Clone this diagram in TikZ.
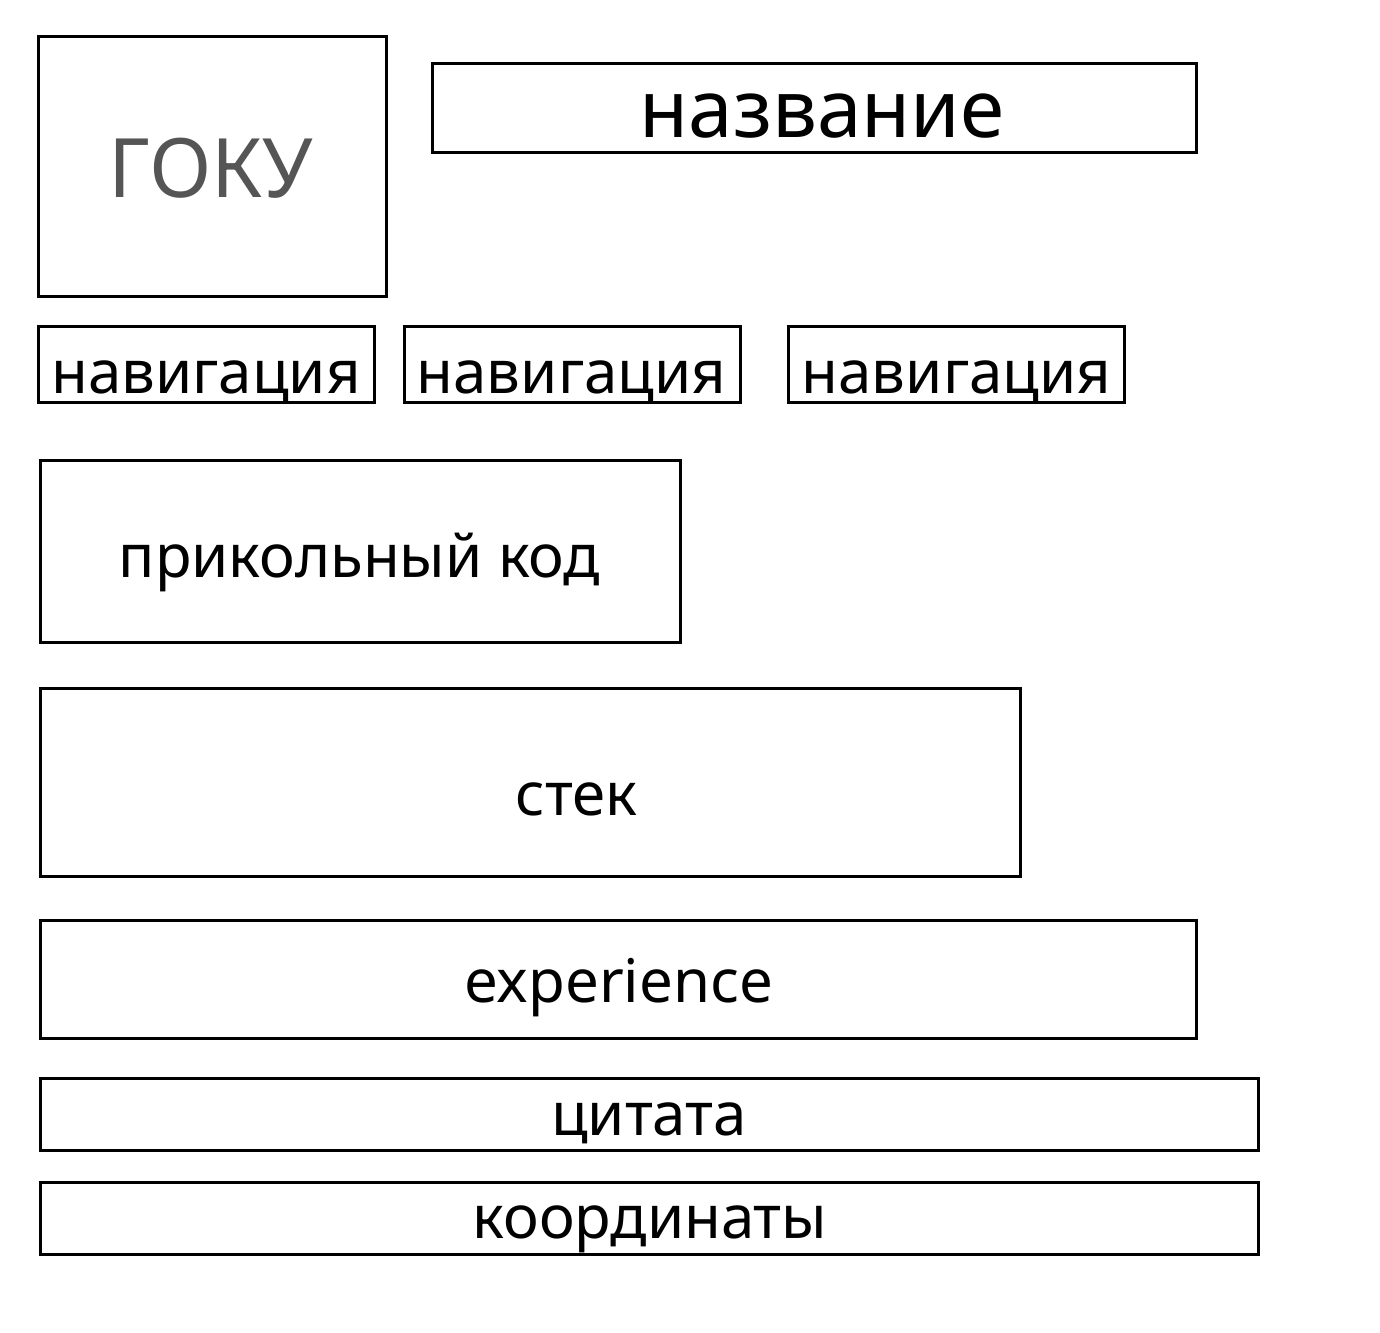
\documentclass[tikz,border=0pt]{standalone}
\usepackage{fontspec}
\setmainfont{Noto Sans}
\usetikzlibrary{fit}
\definecolor{gokugray}{HTML}{555555}
\tikzset{
  box/.style={draw=black, line width=2.9pt, inner sep=0pt, rectangle},
  lbl/.style={anchor=base, inner sep=0pt, font=\fontsize{45}{50}\selectfont, text=black},
}
\begin{document}
\begin{tikzpicture}[x=0.75pt, y=-0.75pt]
\useasboundingbox (0,0) rectangle (1380,1332);
\node[box, fit={(38.5,36.5) (386.5,296.5)}] (goku) {};
\node[box, fit={(432.5,63.5) (1196.5,152.5)}] (title) {};
\node[box, fit={(38.5,326.5) (374.5,402.5)}] (nav1) {};
\node[box, fit={(404.5,326.5) (740.5,402.5)}] (nav2) {};
\node[box, fit={(788.5,326.5) (1124.5,402.5)}] (nav3) {};
\node[box, fit={(40.5,460.5) (680.5,642.5)}] (code) {};
\node[box, fit={(40.5,688.5) (1020.5,876.5)}] (stack) {};
\node[box, fit={(40.5,920.5) (1196.5,1038.5)}] (exp) {};
\node[box, fit={(40.5,1078.5) (1258.5,1150.5)}] (quote) {};
\node[box, fit={(40.5,1182.5) (1258.5,1254.5)}] (coords) {};

\node[lbl, text=gokugray, font=\fontsize{61.5}{70}\selectfont] (gokut) at (211,197) {ГОКУ};
\node[lbl, font=\fontsize{60}{68}\selectfont] (titlet) at (822,137) {название};
\node[lbl] (nav1t) at (206,393) {навигация};
\node[lbl] (nav2t) at (571.5,393) {навигация};
\node[lbl] (nav3t) at (956.5,393) {навигация};
\node[lbl] (codet) at (359.5,577) {прикольный код};
\node[lbl] (stackt) at (576.5,815) {стек};
\node[lbl] (expt) at (618.5,1002) {experience};
\node[lbl] (quotet) at (649,1135) {цитата};
\node[lbl] (coordst) at (650,1238) {координаты};
\end{tikzpicture}
\end{document}
